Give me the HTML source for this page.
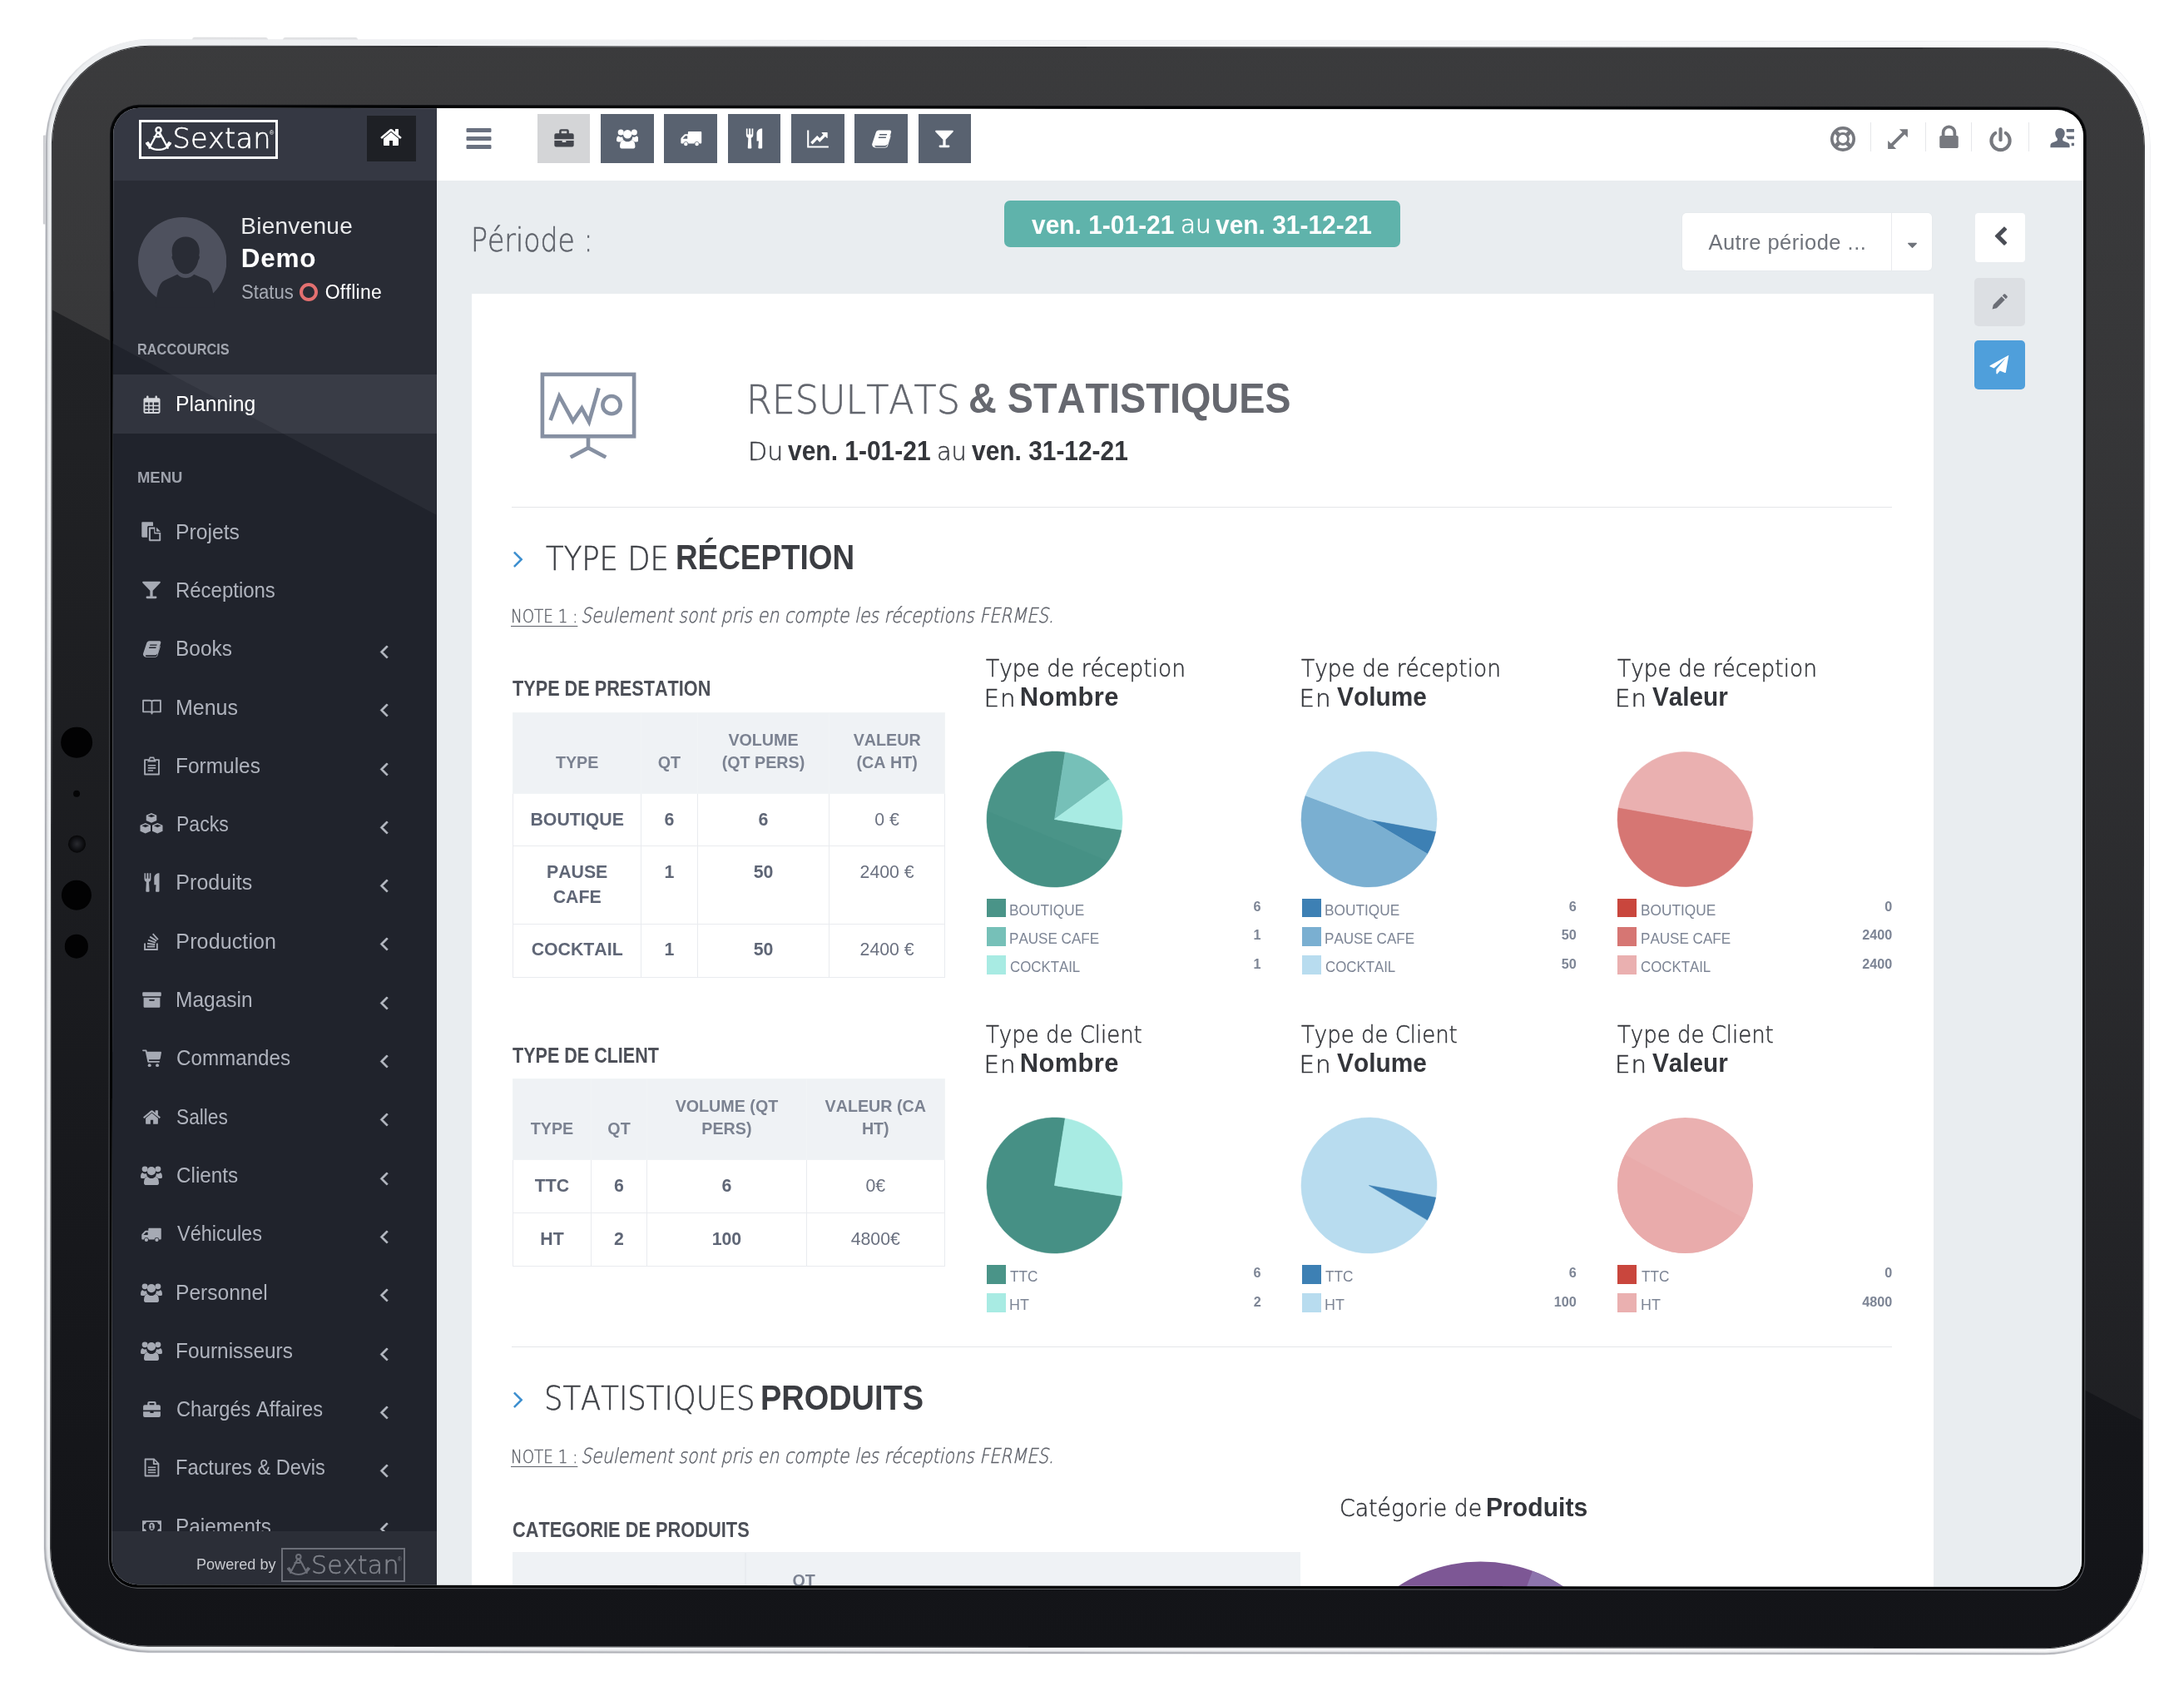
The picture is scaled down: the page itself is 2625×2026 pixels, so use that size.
<!DOCTYPE html>
<html lang="fr"><head><meta charset="utf-8"><title>Sextan - Resultats &amp; Statistiques</title><style>
html,body{margin:0;padding:0}
body{width:2625px;height:2026px;background:#fff;position:relative;overflow:hidden;font-family:"Liberation Sans",sans-serif;font-kerning:none}
.t{position:absolute;white-space:pre;line-height:1;font-kerning:none}
.abs{position:absolute}
table{border-collapse:collapse}

table.st{position:absolute;table-layout:fixed;border-collapse:collapse;font-family:"Liberation Sans",sans-serif;font-kerning:none}
table.st th{background:#eff2f5;color:#7b8291;font-weight:700;font-size:19.700px;line-height:27.500px;text-align:center;vertical-align:bottom;padding:0 0 22.100px 0;border:1.500px solid #f1f4f6;box-sizing:border-box}
table.st td{background:#fff;color:#5f6676;font-weight:700;font-size:21.300px;line-height:29.700px;text-align:center;vertical-align:top;padding:16.700px 0 0 0;border:1.500px solid #e9ebef;box-sizing:border-box}
table.st td.n{font-weight:400;color:#6b7180}
</style></head><body>

<div style="position:absolute;left:0;top:0;width:2625px;height:2026px;transform:rotate(0.00110rad);transform-origin:1318px 1017px">
<div style="position:absolute;left:230.00px;top:45.80px;width:91.00px;height:5.20px;background:linear-gradient(#dcdddf,#efeff1);border-radius:3px 3px 0 0"></div>
<div style="position:absolute;left:339.00px;top:45.80px;width:90.00px;height:5.20px;background:linear-gradient(#dcdddf,#efeff1);border-radius:3px 3px 0 0"></div>
<div style="position:absolute;left:50.60px;top:164.30px;width:6.40px;height:106.70px;background:linear-gradient(90deg,#cbccd0,#d6d7da);border-radius:1px 0 0 1px"></div>
<div style="position:absolute;left:53.80px;top:49.10px;width:2529.20px;height:1937.80px;border-radius:125px;background:linear-gradient(97deg,#eceef0 0%,#f3f4f6 45%,#fbfbfc 100%);box-shadow:inset 2.600px -2.600px 2.500px -.6px rgba(140,143,150,.8),0 0 0 .7px rgba(228,230,234,.9)"></div>
<div style="position:absolute;left:61.80px;top:57.40px;width:2514.60px;height:1921.20px;border-radius:117px;background:linear-gradient(180deg,#232427 0%,#202124 25%,#17181c 75%,#131418 100%);box-shadow:0 0 0 1px rgba(20,21,25,.85)"></div>
<div style="position:absolute;left:61.8px;top:57.4px;width:2514.6px;height:1921.2px;border-radius:117px;overflow:hidden"><div style="position:absolute;left:0;top:0;width:100%;height:100%;clip-path:polygon(0.0px 0.0px,2514.6px 0.0px,2514.6px 1648.6px,0.0px 316.2px);background:linear-gradient(180deg,rgba(249,243,234,.108) 0%,rgba(249,243,234,.1) 20%,rgba(249,243,234,.045) 85%,rgba(249,243,234,.04) 100%)"></div></div>
<div style="position:absolute;left:131.10px;top:127.00px;width:2376.10px;height:1782.80px;border-radius:35px;background:linear-gradient(180deg,#101114 0%,#3a3c41 25%,#5f6166 100%)"></div>
<div style="position:absolute;left:131.90px;top:127.50px;width:2374.40px;height:1781.40px;border-radius:34px;background:#030405"></div>
<div style="position:absolute;left:73.40px;top:875.10px;width:37.20px;height:37.20px;border-radius:50%;background:#020203"></div>
<div style="position:absolute;left:73.80px;top:1058.80px;width:36.40px;height:36.40px;border-radius:50%;background:#020203"></div>
<div style="position:absolute;left:77.80px;top:1124.20px;width:28.40px;height:28.40px;border-radius:50%;background:#020203"></div>
<div style="position:absolute;left:88.00px;top:950.50px;width:8.00px;height:8.00px;border-radius:50%;background:#050506"></div>
<div style="position:absolute;left:81.50px;top:1004.80px;width:21.00px;height:21.00px;border-radius:50%;background:radial-gradient(circle at 50% 50%,#2a2b30 0,#131418 42%,#050506 72%)"></div>
</div>
<div id="screen" style="position:absolute;left:130px;top:124px;width:2380px;height:1788px;overflow:hidden;background:#e9edf0;clip-path:path('M37.28 5.73L2342.97 8.27A31 31 0 0 1 2373.94 39.30L2372.06 1751.80A31 31 0 0 1 2341.02 1782.77L35.32 1780.23A31 31 0 0 1 4.36 1749.20L6.24 36.70A31 31 0 0 1 37.28 5.73Z')">
<div style="position:absolute;left:-130px;top:-124px;width:2625px;height:2026px;will-change:transform">
<div style="position:absolute;left:128.00px;top:122.00px;width:2384.00px;height:1792.00px;background:#e9edf0"></div>
<div style="position:absolute;left:566.80px;top:352.60px;width:1756.80px;height:1561.40px;background:#ffffff"></div>
<svg style="position:absolute;left:705.50px;top:498.00px;color:#8690a2;display:none" width="1.00" height="1.00" viewBox="0 0 60 54" fill="currentColor"><rect x="1.500" y="1.500" width="57" height="38.500" fill="none" stroke="currentColor" stroke-width="2.400"/><path fill="none" stroke="currentColor" stroke-width="2.400" d="M30 40v7.500M19 53l11-5.800 11 5.800M6.500 30l5.500-15 8.500 15.500 5.500-8 4.500 8.500 6-21"/><circle cx="44.500" cy="20.500" r="5.500" fill="none" stroke="currentColor" stroke-width="2.400"/></svg>
<svg style="position:absolute;left:648.5px;top:446.5px;color:#8690a2" width="116" height="104.400" viewBox="0 0 60 54"><rect x="1.500" y="1.500" width="57" height="38.500" fill="none" stroke="currentColor" stroke-width="2.400"/><path fill="none" stroke="currentColor" stroke-width="2.400" d="M30 40v7.500M19 53l11-5.800 11 5.800M6.500 30l5.500-15 8.500 15.500 5.500-8 4.500 8.500 6-21"/><circle cx="44.500" cy="20.500" r="5.500" fill="none" stroke="currentColor" stroke-width="2.400"/></svg>
<div class="t" style="left:897.04px;top:456.37px;font-size:48.01px;color:#62656d;transform:scaleX(0.9239);transform-origin:0 0;font-family:'DejaVu Sans Light','DejaVu Sans',sans-serif;font-weight:200;-webkit-text-stroke:0.60px #62656d;">RESULTATS</div>
<div class="t" style="left:1163.84px;top:453.63px;font-size:50.87px;color:#66686f;transform:scaleX(0.9206);transform-origin:0 0;"><span style="font-weight:700;">&amp; STATISTIQUES</span></div>
<div class="t" style="left:898.84px;top:528.10px;font-size:30.59px;color:#3c3e44;transform:scaleX(0.9844);transform-origin:0 0;font-family:'DejaVu Sans Light','DejaVu Sans',sans-serif;font-weight:200;-webkit-text-stroke:0.50px #3c3e44;">Du</div>
<div class="t" style="left:946.68px;top:526.36px;font-size:32.41px;color:#34363b;transform:scaleX(0.9249);transform-origin:0 0;"><span style="font-weight:700;">ven. 1-01-21</span></div>
<div class="t" style="left:1125.74px;top:528.10px;font-size:30.59px;color:#3c3e44;transform:scaleX(0.9391);transform-origin:0 0;font-family:'DejaVu Sans Light','DejaVu Sans',sans-serif;font-weight:200;-webkit-text-stroke:0.50px #3c3e44;">au</div>
<div class="t" style="left:1167.78px;top:526.36px;font-size:32.41px;color:#34363b;transform:scaleX(0.9226);transform-origin:0 0;"><span style="font-weight:700;">ven. 31-12-21</span></div>
<div style="position:absolute;left:615.40px;top:608.60px;width:1658.60px;height:1.40px;background:#e4e6e9"></div>
<svg style="position:absolute;left:605.50px;top:654.20px;color:#3d8fcf;" width="34.00" height="34.00" viewBox="0 0 1792 1792" fill="currentColor"><g transform="translate(1792 0) scale(-1 1)"><path d="M1203 544q0 13-10 23l-393 393 393 393q10 10 10 23t-10 23l-50 50q-10 10-23 10t-23-10l-466-466q-10-10-10-23t10-23l466-466q10-10 23-10t23 10l50 50q10 10 10 23z"/></g></svg>
<div class="t" style="left:655.92px;top:651.63px;font-size:39.37px;color:#3e4046;transform:scaleX(0.8998);transform-origin:0 0;font-family:'DejaVu Sans Light','DejaVu Sans',sans-serif;font-weight:200;-webkit-text-stroke:0.50px #3e4046;">TYPE DE</div>
<div class="t" style="left:811.83px;top:649.38px;font-size:41.72px;color:#3b3d42;transform:scaleX(0.8836);transform-origin:0 0;"><span style="font-weight:700;">RÉCEPTION</span></div>
<div class="t" style="left:614.18px;top:731.42px;font-size:20.58px;color:#5d6068;transform:scaleX(0.8902);transform-origin:0 0;font-family:'DejaVu Sans Light','DejaVu Sans',sans-serif;font-weight:200;text-decoration:underline;text-decoration-thickness:1.300px;text-underline-offset:3.500px;-webkit-text-stroke:0.40px #5d6068;">NOTE 1 :</div>
<div class="t" style="left:697.67px;top:727.96px;font-size:24.69px;color:#5d6068;transform:scaleX(0.8321);transform-origin:0 0;font-family:'DejaVu Sans Light','DejaVu Sans',sans-serif;font-weight:200;-webkit-text-stroke:0.45px #5d6068;font-style:italic;">Seulement sont pris en compte les réceptions FERMES.</div>
<div class="t" style="left:616.16px;top:815.01px;font-size:25.15px;color:#4d5058;transform:scaleX(0.8618);transform-origin:0 0;"><span style="font-weight:700;">TYPE DE PRESTATION</span></div>
<table class="st" style="left:616.00px;top:855.50px;width:518.90px"><colgroup><col style="width:154.30px"><col style="width:67.30px"><col style="width:158.80px"><col style="width:138.50px"></colgroup><thead><tr style="height:97.50px"><th>TYPE</th><th>QT</th><th>VOLUME<br>(QT PERS)</th><th>VALEUR<br>(CA HT)</th></tr></thead><tbody><tr style="height:63.30px"><td>BOUTIQUE</td><td>6</td><td>6</td><td class="n">0 €</td></tr><tr style="height:93.40px"><td>PAUSE<br>CAFE</td><td>1</td><td>50</td><td class="n">2400 €</td></tr><tr style="height:64.50px"><td>COCKTAIL</td><td>1</td><td>50</td><td class="n">2400 €</td></tr></tbody></table>
<div class="t" style="left:616.16px;top:1255.61px;font-size:25.15px;color:#4d5058;transform:scaleX(0.8568);transform-origin:0 0;"><span style="font-weight:700;">TYPE DE CLIENT</span></div>
<table class="st" style="left:616.00px;top:1295.60px;width:518.90px"><colgroup><col style="width:93.90px"><col style="width:67.30px"><col style="width:191.50px"><col style="width:166.20px"></colgroup><thead><tr style="height:97.30px"><th>TYPE</th><th>QT</th><th>VOLUME (QT<br>PERS)</th><th>VALEUR (CA<br>HT)</th></tr></thead><tbody><tr style="height:64.00px"><td>TTC</td><td>6</td><td>6</td><td class="n">0€</td></tr><tr style="height:64.00px"><td>HT</td><td>2</td><td>100</td><td class="n">4800€</td></tr></tbody></table>
<div class="t" style="left:1185.42px;top:788.96px;font-size:29.22px;color:#33353a;transform:scaleX(0.9043);transform-origin:0 0;font-family:'DejaVu Sans Light','DejaVu Sans',sans-serif;font-weight:200;-webkit-text-stroke:0.50px #33353a;">Type de réception</div>
<div class="t" style="left:1182.45px;top:824.76px;font-size:29.22px;color:#33353a;letter-spacing:1.012px;font-family:'DejaVu Sans Light','DejaVu Sans',sans-serif;font-weight:200;-webkit-text-stroke:0.50px #33353a;">En</div>
<div class="t" style="left:1225.73px;top:823.09px;font-size:30.96px;color:#33353a;letter-spacing:0.351px;"><span style="font-weight:700;">Nombre</span></div>
<svg style="position:absolute;left:1183.20px;top:899.80px" width="169.00" height="169.00" viewBox="0 0 169.00 169.00"><path d="M84.50 84.50L165.00 97.25A81.50 81.50 0 1 1 97.25 4.00Z" fill="#4a9488" stroke="#4a9488" stroke-width=".6"/><path d="M84.50 84.50L97.25 4.00A81.50 81.50 0 0 1 150.43 36.60Z" fill="#76c0b8" stroke="#76c0b8" stroke-width=".6"/><path d="M84.50 84.50L150.43 36.60A81.50 81.50 0 0 1 165.00 97.25Z" fill="#a8ebe3" stroke="#a8ebe3" stroke-width=".6"/><path d="M148.72 134.68A81.500 81.500 0 0 1 3.61 74.57Z" fill="#3f8b80" opacity=".35"/></svg>
<div style="position:absolute;left:1185.70px;top:1079.70px;width:23.00px;height:22.60px;background:#4a9488"></div>
<div class="t" style="left:1213.18px;top:1084.76px;font-size:18.00px;color:#7d8595;transform:scaleX(0.9590);transform-origin:0 0;">BOUTIQUE</div>
<div class="t" style="left:1506.58px;top:1080.98px;font-size:16.20px;color:#7d8595;"><span style="font-weight:700;">6</span></div>
<div style="position:absolute;left:1185.70px;top:1114.00px;width:23.00px;height:22.60px;background:#76c0b8"></div>
<div class="t" style="left:1213.20px;top:1119.06px;font-size:18.00px;color:#7d8595;transform:scaleX(0.9483);transform-origin:0 0;">PAUSE CAFE</div>
<div class="t" style="left:1506.44px;top:1115.28px;font-size:16.20px;color:#7d8595;"><span style="font-weight:700;">1</span></div>
<div style="position:absolute;left:1185.70px;top:1148.30px;width:23.00px;height:22.60px;background:#a8ebe3"></div>
<div class="t" style="left:1213.74px;top:1153.36px;font-size:18.00px;color:#7d8595;transform:scaleX(0.9355);transform-origin:0 0;">COCKTAIL</div>
<div class="t" style="left:1506.44px;top:1149.58px;font-size:16.20px;color:#7d8595;"><span style="font-weight:700;">1</span></div>
<div class="t" style="left:1564.42px;top:788.96px;font-size:29.22px;color:#33353a;transform:scaleX(0.9043);transform-origin:0 0;font-family:'DejaVu Sans Light','DejaVu Sans',sans-serif;font-weight:200;-webkit-text-stroke:0.50px #33353a;">Type de réception</div>
<div class="t" style="left:1561.45px;top:824.76px;font-size:29.22px;color:#33353a;letter-spacing:1.012px;font-family:'DejaVu Sans Light','DejaVu Sans',sans-serif;font-weight:200;-webkit-text-stroke:0.50px #33353a;">En</div>
<div class="t" style="left:1606.60px;top:823.09px;font-size:30.96px;color:#33353a;transform:scaleX(0.9643);transform-origin:0 0;"><span style="font-weight:700;">Volume</span></div>
<svg style="position:absolute;left:1561.20px;top:899.80px" width="169.00" height="169.00" viewBox="0 0 169.00 169.00"><path d="M84.50 84.50L164.69 99.07A81.50 81.50 0 0 1 154.58 126.11Z" fill="#3d80b4" stroke="#3d80b4" stroke-width=".6"/><path d="M84.50 84.50L154.58 126.11A81.50 81.50 0 0 1 8.16 55.96Z" fill="#7aafd1" stroke="#7aafd1" stroke-width=".6"/><path d="M84.50 84.50L8.16 55.96A81.50 81.50 0 0 1 164.69 99.07Z" fill="#b8dcef" stroke="#b8dcef" stroke-width=".6"/></svg>
<div style="position:absolute;left:1564.70px;top:1079.70px;width:23.00px;height:22.60px;background:#3d80b4"></div>
<div class="t" style="left:1592.18px;top:1084.76px;font-size:18.00px;color:#7d8595;transform:scaleX(0.9590);transform-origin:0 0;">BOUTIQUE</div>
<div class="t" style="left:1885.78px;top:1080.98px;font-size:16.20px;color:#7d8595;"><span style="font-weight:700;">6</span></div>
<div style="position:absolute;left:1564.70px;top:1114.00px;width:23.00px;height:22.60px;background:#7aafd1"></div>
<div class="t" style="left:1592.20px;top:1119.06px;font-size:18.00px;color:#7d8595;transform:scaleX(0.9483);transform-origin:0 0;">PAUSE CAFE</div>
<div class="t" style="left:1876.85px;top:1115.28px;font-size:16.20px;color:#7d8595;"><span style="font-weight:700;">50</span></div>
<div style="position:absolute;left:1564.70px;top:1148.30px;width:23.00px;height:22.60px;background:#b8dcef"></div>
<div class="t" style="left:1592.74px;top:1153.36px;font-size:18.00px;color:#7d8595;transform:scaleX(0.9355);transform-origin:0 0;">COCKTAIL</div>
<div class="t" style="left:1876.85px;top:1149.58px;font-size:16.20px;color:#7d8595;"><span style="font-weight:700;">50</span></div>
<div class="t" style="left:1943.92px;top:788.96px;font-size:29.22px;color:#33353a;transform:scaleX(0.9043);transform-origin:0 0;font-family:'DejaVu Sans Light','DejaVu Sans',sans-serif;font-weight:200;-webkit-text-stroke:0.50px #33353a;">Type de réception</div>
<div class="t" style="left:1940.95px;top:824.76px;font-size:29.22px;color:#33353a;letter-spacing:1.012px;font-family:'DejaVu Sans Light','DejaVu Sans',sans-serif;font-weight:200;-webkit-text-stroke:0.50px #33353a;">En</div>
<div class="t" style="left:1986.10px;top:823.09px;font-size:30.96px;color:#33353a;transform:scaleX(0.9599);transform-origin:0 0;"><span style="font-weight:700;">Valeur</span></div>
<svg style="position:absolute;left:1941.00px;top:899.80px" width="169.00" height="169.00" viewBox="0 0 169.00 169.00"><path d="M84.50 84.50L164.76 98.65A81.50 81.50 0 0 1 4.24 70.35Z" fill="#d67673" stroke="#d67673" stroke-width=".6"/><path d="M84.50 84.50L4.24 70.35A81.50 81.50 0 0 1 164.76 98.65Z" fill="#eab0b0" stroke="#eab0b0" stroke-width=".6"/></svg>
<div style="position:absolute;left:1944.20px;top:1079.70px;width:23.00px;height:22.60px;background:#c9463d"></div>
<div class="t" style="left:1971.68px;top:1084.76px;font-size:18.00px;color:#7d8595;transform:scaleX(0.9590);transform-origin:0 0;">BOUTIQUE</div>
<div class="t" style="left:2265.35px;top:1080.98px;font-size:16.20px;color:#7d8595;"><span style="font-weight:700;">0</span></div>
<div style="position:absolute;left:1944.20px;top:1114.00px;width:23.00px;height:22.60px;background:#d67673"></div>
<div class="t" style="left:1971.70px;top:1119.06px;font-size:18.00px;color:#7d8595;transform:scaleX(0.9483);transform-origin:0 0;">PAUSE CAFE</div>
<div class="t" style="left:2238.33px;top:1115.28px;font-size:16.20px;color:#7d8595;"><span style="font-weight:700;">2400</span></div>
<div style="position:absolute;left:1944.20px;top:1148.30px;width:23.00px;height:22.60px;background:#eab0b0"></div>
<div class="t" style="left:1972.24px;top:1153.36px;font-size:18.00px;color:#7d8595;transform:scaleX(0.9355);transform-origin:0 0;">COCKTAIL</div>
<div class="t" style="left:2238.33px;top:1149.58px;font-size:16.20px;color:#7d8595;"><span style="font-weight:700;">2400</span></div>
<div class="t" style="left:1185.43px;top:1228.96px;font-size:29.22px;color:#33353a;transform:scaleX(0.8885);transform-origin:0 0;font-family:'DejaVu Sans Light','DejaVu Sans',sans-serif;font-weight:200;-webkit-text-stroke:0.50px #33353a;">Type de Client</div>
<div class="t" style="left:1182.45px;top:1264.76px;font-size:29.22px;color:#33353a;letter-spacing:1.012px;font-family:'DejaVu Sans Light','DejaVu Sans',sans-serif;font-weight:200;-webkit-text-stroke:0.50px #33353a;">En</div>
<div class="t" style="left:1225.73px;top:1263.09px;font-size:30.96px;color:#33353a;letter-spacing:0.351px;"><span style="font-weight:700;">Nombre</span></div>
<svg style="position:absolute;left:1183.20px;top:1340.20px" width="169.00" height="169.00" viewBox="0 0 169.00 169.00"><path d="M84.50 84.50L165.00 97.25A81.50 81.50 0 1 1 97.25 4.00Z" fill="#469085" stroke="#469085" stroke-width=".6"/><path d="M84.50 84.50L97.25 4.00A81.50 81.50 0 0 1 165.00 97.25Z" fill="#a8ebe3" stroke="#a8ebe3" stroke-width=".6"/></svg>
<div style="position:absolute;left:1185.70px;top:1520.10px;width:23.00px;height:22.60px;background:#4a9488"></div>
<div class="t" style="left:1214.21px;top:1525.16px;font-size:18.00px;color:#7d8595;transform:scaleX(0.9558);transform-origin:0 0;">TTC</div>
<div class="t" style="left:1506.58px;top:1521.38px;font-size:16.20px;color:#7d8595;"><span style="font-weight:700;">6</span></div>
<div style="position:absolute;left:1185.70px;top:1554.40px;width:23.00px;height:22.60px;background:#a8ebe3"></div>
<div class="t" style="left:1213.13px;top:1559.46px;font-size:18.00px;color:#7d8595;transform:scaleX(0.9953);transform-origin:0 0;">HT</div>
<div class="t" style="left:1506.64px;top:1555.68px;font-size:16.20px;color:#7d8595;"><span style="font-weight:700;">2</span></div>
<div class="t" style="left:1564.43px;top:1228.96px;font-size:29.22px;color:#33353a;transform:scaleX(0.8885);transform-origin:0 0;font-family:'DejaVu Sans Light','DejaVu Sans',sans-serif;font-weight:200;-webkit-text-stroke:0.50px #33353a;">Type de Client</div>
<div class="t" style="left:1561.45px;top:1264.76px;font-size:29.22px;color:#33353a;letter-spacing:1.012px;font-family:'DejaVu Sans Light','DejaVu Sans',sans-serif;font-weight:200;-webkit-text-stroke:0.50px #33353a;">En</div>
<div class="t" style="left:1606.60px;top:1263.09px;font-size:30.96px;color:#33353a;transform:scaleX(0.9643);transform-origin:0 0;"><span style="font-weight:700;">Volume</span></div>
<svg style="position:absolute;left:1561.20px;top:1340.20px" width="169.00" height="169.00" viewBox="0 0 169.00 169.00"><path d="M84.50 84.50L154.58 126.11A81.50 81.50 0 1 1 164.69 99.07Z" fill="#b8dcef" stroke="#b8dcef" stroke-width=".6"/><path d="M84.50 84.50L164.69 99.07A81.50 81.50 0 0 1 154.58 126.11Z" fill="#3d80b4" stroke="#3d80b4" stroke-width=".6"/></svg>
<div style="position:absolute;left:1564.70px;top:1520.10px;width:23.00px;height:22.60px;background:#3d80b4"></div>
<div class="t" style="left:1593.21px;top:1525.16px;font-size:18.00px;color:#7d8595;transform:scaleX(0.9558);transform-origin:0 0;">TTC</div>
<div class="t" style="left:1885.78px;top:1521.38px;font-size:16.20px;color:#7d8595;"><span style="font-weight:700;">6</span></div>
<div style="position:absolute;left:1564.70px;top:1554.40px;width:23.00px;height:22.60px;background:#b8dcef"></div>
<div class="t" style="left:1592.13px;top:1559.46px;font-size:18.00px;color:#7d8595;transform:scaleX(0.9953);transform-origin:0 0;">HT</div>
<div class="t" style="left:1867.84px;top:1555.68px;font-size:16.20px;color:#7d8595;"><span style="font-weight:700;">100</span></div>
<div class="t" style="left:1943.93px;top:1228.96px;font-size:29.22px;color:#33353a;transform:scaleX(0.8885);transform-origin:0 0;font-family:'DejaVu Sans Light','DejaVu Sans',sans-serif;font-weight:200;-webkit-text-stroke:0.50px #33353a;">Type de Client</div>
<div class="t" style="left:1940.95px;top:1264.76px;font-size:29.22px;color:#33353a;letter-spacing:1.012px;font-family:'DejaVu Sans Light','DejaVu Sans',sans-serif;font-weight:200;-webkit-text-stroke:0.50px #33353a;">En</div>
<div class="t" style="left:1986.10px;top:1263.09px;font-size:30.96px;color:#33353a;transform:scaleX(0.9599);transform-origin:0 0;"><span style="font-weight:700;">Valeur</span></div>
<svg style="position:absolute;left:1941.00px;top:1340.20px" width="169.00" height="169.00" viewBox="0 0 169.00 169.00"><circle cx="84.50" cy="84.50" r="81.50" fill="#eab0b0"/><path d="M155.78 124.01A81.500 81.500 0 0 1 11.88 47.50Z" fill="#e7a9a9" opacity=".6"/></svg>
<div style="position:absolute;left:1944.20px;top:1520.10px;width:23.00px;height:22.60px;background:#c9463d"></div>
<div class="t" style="left:1972.71px;top:1525.16px;font-size:18.00px;color:#7d8595;transform:scaleX(0.9558);transform-origin:0 0;">TTC</div>
<div class="t" style="left:2265.35px;top:1521.38px;font-size:16.20px;color:#7d8595;"><span style="font-weight:700;">0</span></div>
<div style="position:absolute;left:1944.20px;top:1554.40px;width:23.00px;height:22.60px;background:#eab0b0"></div>
<div class="t" style="left:1971.63px;top:1559.46px;font-size:18.00px;color:#7d8595;transform:scaleX(0.9953);transform-origin:0 0;">HT</div>
<div class="t" style="left:2238.33px;top:1555.68px;font-size:16.20px;color:#7d8595;"><span style="font-weight:700;">4800</span></div>
<div style="position:absolute;left:615.40px;top:1617.80px;width:1658.60px;height:1.40px;background:#e4e6e9"></div>
<svg style="position:absolute;left:605.50px;top:1663.90px;color:#3d8fcf;" width="34.00" height="34.00" viewBox="0 0 1792 1792" fill="currentColor"><g transform="translate(1792 0) scale(-1 1)"><path d="M1203 544q0 13-10 23l-393 393 393 393q10 10 10 23t-10 23l-50 50q-10 10-23 10t-23-10l-466-466q-10-10-10-23t10-23l466-466q10-10 23-10t23 10l50 50q10 10 10 23z"/></g></svg>
<div class="t" style="left:653.55px;top:1661.33px;font-size:39.37px;color:#3e4046;transform:scaleX(0.8992);transform-origin:0 0;font-family:'DejaVu Sans Light','DejaVu Sans',sans-serif;font-weight:200;-webkit-text-stroke:0.50px #3e4046;">STATISTIQUES</div>
<div class="t" style="left:914.46px;top:1659.08px;font-size:41.72px;color:#3b3d42;transform:scaleX(0.9094);transform-origin:0 0;"><span style="font-weight:700;">PRODUITS</span></div>
<div class="t" style="left:614.18px;top:1741.12px;font-size:20.58px;color:#5d6068;transform:scaleX(0.8902);transform-origin:0 0;font-family:'DejaVu Sans Light','DejaVu Sans',sans-serif;font-weight:200;text-decoration:underline;text-decoration-thickness:1.300px;text-underline-offset:3.500px;-webkit-text-stroke:0.40px #5d6068;">NOTE 1 :</div>
<div class="t" style="left:697.67px;top:1737.66px;font-size:24.69px;color:#5d6068;transform:scaleX(0.8321);transform-origin:0 0;font-family:'DejaVu Sans Light','DejaVu Sans',sans-serif;font-weight:200;-webkit-text-stroke:0.45px #5d6068;font-style:italic;">Seulement sont pris en compte les réceptions FERMES.</div>
<div class="t" style="left:615.51px;top:1826.01px;font-size:25.15px;color:#4d5058;transform:scaleX(0.8673);transform-origin:0 0;"><span style="font-weight:700;">CATEGORIE DE PRODUITS</span></div>
<div style="position:absolute;left:616.00px;top:1864.50px;width:946.50px;height:49.50px;background:#eff2f5"></div>
<div style="position:absolute;left:895.00px;top:1866.00px;width:1.50px;height:48.00px;background:#e9ecf0"></div>
<div class="t" style="left:952.52px;top:1889.62px;font-size:19.70px;color:#7b8291;"><span style="font-weight:700;">QT</span></div>
<div class="t" style="left:1610.48px;top:1798.46px;font-size:29.22px;color:#33353a;transform:scaleX(0.9154);transform-origin:0 0;font-family:'DejaVu Sans Light','DejaVu Sans',sans-serif;font-weight:200;-webkit-text-stroke:0.50px #33353a;">Catégorie de</div>
<div class="t" style="left:1786.48px;top:1796.79px;font-size:30.96px;color:#33353a;transform:scaleX(0.9737);transform-origin:0 0;"><span style="font-weight:700;">Produits</span></div>
<svg style="position:absolute;left:1590px;top:1870px" width="380" height="60" viewBox="1590 1870 380 60"><circle cx="1779.500" cy="2057" r="180.500" fill="#7d5795"/><path d="M1779.500 2057L1842 1887.700A180.500 180.500 0 0 1 1960 2057Z" fill="#8d74ad"/></svg>
<div class="t" style="left:565.65px;top:270.15px;font-size:38.27px;color:#5f636b;transform:scaleX(0.8659);transform-origin:0 0;font-family:'DejaVu Sans Light','DejaVu Sans',sans-serif;font-weight:200;-webkit-text-stroke:0.60px #5f636b;">Période :</div>
<div style="position:absolute;left:1207.00px;top:241.20px;width:476.00px;height:56.10px;background:#5fb3ab;border-radius:7px"></div>
<div class="t" style="left:1239.88px;top:254.96px;font-size:30.52px;color:#ffffff;transform:scaleX(0.9810);transform-origin:0 0;"><span style="font-weight:700;">ven. 1-01-21</span></div>
<div class="t" style="left:1418.58px;top:256.03px;font-size:29.49px;color:#ffffff;transform:scaleX(0.9999);transform-origin:0 0;font-family:'DejaVu Sans Light','DejaVu Sans',sans-serif;font-weight:200;-webkit-text-stroke:0.70px #ffffff;">au</div>
<div class="t" style="left:1460.88px;top:254.96px;font-size:30.52px;color:#ffffff;transform:scaleX(0.9802);transform-origin:0 0;"><span style="font-weight:700;">ven. 31-12-21</span></div>
<div style="position:absolute;left:2022.20px;top:256.30px;width:299.40px;height:68.40px;background:#fff;border-radius:5px;box-shadow:0 0 2px rgba(0,0,0,.05)"></div>
<div style="position:absolute;left:2273.00px;top:256.30px;width:1.20px;height:68.40px;background:#e9ebee"></div>
<div class="t" style="left:2053.45px;top:279.41px;font-size:25.50px;color:#6f737b;letter-spacing:0.496px;">Autre période ...</div>
<svg style="position:absolute;left:2289.00px;top:284.50px;color:#6f737b;" width="19.00" height="19.00" viewBox="0 0 1792 1792" fill="currentColor"><path d="M1408 704q0 26-19 45l-448 448q-19 19-45 19t-45-19l-448-448q-19-19-19-45t19-45 45-19h896q26 0 45 19t19 45z"/></svg>
<div style="position:absolute;left:2374.00px;top:256.30px;width:59.50px;height:58.40px;background:#fff;border-radius:4px"></div>
<svg style="position:absolute;left:2391.50px;top:272.00px;color:#4a4d55;" width="25.00" height="25.00" viewBox="0 0 1792 1792" fill="currentColor"><path d="M1427 301l-531 531 531 531q19 19 19 45t-19 45l-166 166q-19 19-45 19t-45-19l-742-742q-19-19-19-45t19-45l742-742q19-19 45-19t45 19l166 166q19 19 19 45t-19 45z"/></svg>
<div style="position:absolute;left:2372.80px;top:333.70px;width:61.70px;height:58.10px;background:#dcdfe3;border-radius:5px"></div>
<svg style="position:absolute;left:2392.00px;top:351.00px;color:#6b6e76;" width="23.00" height="23.00" viewBox="0 0 24 24" fill="currentColor"><path d="M17.200 2.600c.5-.5 1.300-.5 1.800 0l2.400 2.400c.5.500.5 1.300 0 1.800l-1.800 1.800-4.200-4.200 1.800-1.800zM14.300 5.500l4.200 4.200L8.200 20l-5.500 1.300L4 15.800 14.300 5.500z"/></svg>
<div style="position:absolute;left:2372.80px;top:409.00px;width:61.70px;height:58.50px;background:#4f9fdb;border-radius:5px"></div>
<svg style="position:absolute;left:2389.50px;top:424.50px;color:#ffffff;" width="26.00" height="26.00" viewBox="0 0 24 24" fill="currentColor"><path d="M22.500 1.500L19.200 20.700c-.1.500-.6.700-1 .5l-5.500-2.300-2.900 3.400c-.4.500-1.200.2-1.200-.5v-4.200L19 5 6.100 16.200 1.800 14.400c-.6-.2-.6-1-.1-1.300L22.500 1.500z"/></svg>
<div style="position:absolute;left:524.50px;top:120.00px;width:1987.50px;height:97.30px;background:#ffffff"></div>
<svg style="position:absolute;left:557.50px;top:148.50px;color:#6a7180;" width="35.00" height="35.00" viewBox="0 0 1792 1792" fill="currentColor"><path d="M1664 1344v128q0 26-19 45t-45 19h-1408q-26 0-45-19t-19-45v-128q0-26 19-45t45-19h1408q26 0 45 19t19 45zm0-512v128q0 26-19 45t-45 19h-1408q-26 0-45-19t-19-45v-128q0-26 19-45t45-19h1408q26 0 45 19t19 45zm0-512v128q0 26-19 45t-45 19h-1408q-26 0-45-19t-19-45v-128q0-26 19-45t45-19h1408q26 0 45 19t19 45z"/></svg>
<div style="position:absolute;left:645.80px;top:136.80px;width:63.50px;height:59.20px;background:#d4d5d7"></div>
<svg style="position:absolute;left:663.50px;top:152.00px;color:#43464d;" width="28.00" height="28.00" viewBox="0 0 24 24" fill="currentColor"><path d="M9 2.800h6a2 2 0 0 1 2 2V7h3.200A1.800 1.800 0 0 1 22 8.800V13H2V8.800A1.800 1.800 0 0 1 3.800 7H7V4.800a2 2 0 0 1 2-2zm.2 2V7h5.600V4.800H9.200zM2 14.600h8v1.700h4v-1.700h8v4.600A1.800 1.800 0 0 1 20.200 21H3.800A1.800 1.800 0 0 1 2 19.200v-4.600z"/></svg>
<div style="position:absolute;left:722.12px;top:136.80px;width:63.50px;height:59.20px;background:#596270"></div>
<svg style="position:absolute;left:740.57px;top:153.25px;color:#ffffff;" width="26.50" height="26.50" viewBox="0 -1 24 24" fill="currentColor"><circle cx="12" cy="6.500" r="4.700"/><path d="M5.500 22c-1.100 0-1.800-.8-1.800-1.900 0-4.300 1.400-7.300 3.900-7.300 1.100 1.100 2.600 1.900 4.400 1.900s3.300-.8 4.400-1.900c2.500 0 3.900 3 3.900 7.300 0 1.100-.7 1.900-1.800 1.900z"/><circle cx="4.700" cy="4.400" r="3.200"/><path d="M0 13c0-2.700.9-4.500 2.400-4.500.7.700 1.500 1.200 2.500 1.200.6 0 1.200-.2 1.700-.5-.1 1.300.3 2.500 1.100 3.500-1.500.1-2.700.9-3.400 2.100H2.100C.8 14.800 0 14.200 0 13z"/><circle cx="19.300" cy="4.400" r="3.200"/><path d="M24 13c0-2.700-.9-4.500-2.400-4.500-.7.700-1.500 1.200-2.500 1.200-.6 0-1.200-.2-1.700-.5.1 1.300-.3 2.500-1.100 3.500 1.500.1 2.700.9 3.400 2.100h2.200c1.300 0 2.100-.6 2.100-1.800z"/></svg>
<div style="position:absolute;left:798.44px;top:136.80px;width:63.50px;height:59.20px;background:#596270"></div>
<svg style="position:absolute;left:816.64px;top:153.00px;color:#ffffff;" width="27.00" height="27.00" viewBox="0 0 24 24" fill="currentColor"><path fill-rule="evenodd" d="M9.500 4.500h13a.8.8 0 0 1 .8.800V16.500a.8.8 0 0 1-.8.800H21a2.800 2.800 0 0 0-5.500 0H9.300a2.800 2.800 0 0 0-5.500 0H2a.8.8 0 0 1-.8-.8V12.300c0-.5.200-1 .5-1.300l2.900-3.100c.3-.3.700-.5 1.200-.5h3v-2.100a.8.8 0 0 1 .7-.8zM3 12.300h5.200V9.200H6.100L3 12.400zM6.500 15.800a2 2 0 1 0 0 4 2 2 0 0 0 0-4zM18.300 15.800a2 2 0 1 0 0 4 2 2 0 0 0 0-4z"/></svg>
<div style="position:absolute;left:874.76px;top:136.80px;width:63.50px;height:59.20px;background:#596270"></div>
<svg style="position:absolute;left:891.96px;top:152.00px;color:#ffffff;" width="29.00" height="29.00" viewBox="0 0 24 24" fill="currentColor"><path d="M4 2v6.500c0 1.400.9 2.500 2.100 2.900L5.600 21c0 .6.500 1 1.100 1h1.600c.6 0 1.100-.4 1.100-1l-.5-9.600c1.200-.4 2.100-1.500 2.100-2.900V2H9.600v5.800H8.400V2H6.600v5.800H5.400V2H4zM19.500 2c-2.800 0-5 2.200-5 5v7.500h2l-.5 6.500c0 .6.500 1 1.100 1h1.800c.6 0 1.100-.4 1.100-1V2h-.5z"/></svg>
<div style="position:absolute;left:951.08px;top:136.80px;width:63.50px;height:59.20px;background:#596270"></div>
<svg style="position:absolute;left:968.78px;top:152.50px;color:#ffffff;" width="28.00" height="28.00" viewBox="0 0 24 24" fill="currentColor"><path d="M1 3h1.800v16.200H23V21H1z"/><path d="M22 5.500v5.200c0 .4-.5.600-.8.300l-1.500-1.500-5.500 5.500c-.2.200-.4.200-.6 0L11.300 12.700 6.500 17.500 4.400 15.400 11 8.800c.2-.2.400-.2.600 0l2.300 2.300 3.700-3.700-1.500-1.500c-.3-.3-.1-.8.300-.8h5.200c.2 0 .4.200.4.400z"/></svg>
<div style="position:absolute;left:1027.40px;top:136.80px;width:63.50px;height:59.20px;background:#596270"></div>
<svg style="position:absolute;left:1045.60px;top:153.00px;color:#ffffff;" width="27.00" height="27.00" viewBox="0 0 24 24" fill="currentColor"><path fill-rule="evenodd" d="M9.200 3.200h11.600c1.200 0 1.900 1 1.500 2.200l-3.700 12c-.4 1.200-1.500 2.100-2.800 2.100H5.500c-.6 0-1 .3-.8.800.2.500.7.700 1.400.7h9.800c.9 0 1.800-.6 2.100-1.500L21.300 8c.5.600.6 1.300.4 2.100l-3 9.700c-.4 1.300-1.500 2-2.800 2H5.700c-1.700 0-3.300-1.200-3.700-2.700-.2-.7-.1-1.200.1-1.800L6 5.500c.5-1.400 1.700-2.300 3.200-2.300zM10 7.200l-.4 1.300h8l.4-1.300h-8zM9 10.200l-.4 1.300h8l.4-1.300H9z"/></svg>
<div style="position:absolute;left:1103.72px;top:136.80px;width:63.50px;height:59.20px;background:#596270"></div>
<svg style="position:absolute;left:1122.42px;top:153.50px;color:#ffffff;" width="26.00" height="26.00" viewBox="0 0 24 24" fill="currentColor"><path d="M2 3.500c0-.5.400-.9.900-.9h18.200c.5 0 .9.400.9.900 0 .3-.1.500-.3.700L13.500 12.800V19h3.300c.6 0 1.100.5 1.100 1.100v.2c0 .6-.5 1.100-1.100 1.100H7.200c-.6 0-1.100-.5-1.100-1.100v-.2c0-.6.500-1.100 1.100-1.100h3.300v-6.200L2.300 4.200A1 1 0 0 1 2 3.500z"/></svg>
<svg style="position:absolute;left:2198.40px;top:149.70px;color:#77797f;" width="34.00" height="34.00" viewBox="0 0 24 24" fill="currentColor"><circle cx="12" cy="12" r="9.300" fill="none" stroke="currentColor" stroke-width="2.600"/><circle cx="12" cy="12" r="4.600" fill="none" stroke="currentColor" stroke-width="2"/><path stroke="currentColor" stroke-width="3.400" d="M5.300 5.300l3.300 3.300M18.700 5.300l-3.300 3.300M5.300 18.700l3.300-3.300M18.700 18.700l-3.300-3.300"/></svg>
<svg style="position:absolute;left:2266.30px;top:152.00px;color:#77797f;" width="30.00" height="30.00" viewBox="0 0 24 24" fill="currentColor"><path d="M13.500 2.500H21.500V10.500L18.600 7.600 7.600 18.600 10.500 21.500H2.500V13.500L5.400 16.400 16.400 5.400z"/></svg>
<svg style="position:absolute;left:2324.50px;top:147.50px;color:#77797f;" width="35.00" height="35.00" viewBox="0 0 1792 1792" fill="currentColor"><path d="M640 768h512v-192q0-106-75-181t-181-75-181 75-75 181v192zm832 96v576q0 40-28 68t-68 28h-960q-40 0-68-28t-28-68v-576q0-40 28-68t68-28h32v-192q0-184 132-316t316-132 316 132 132 316v192h32q40 0 68 28t28 68z"/></svg>
<svg style="position:absolute;left:2389.00px;top:152.50px;color:#77797f;" width="31.00" height="31.00" viewBox="0 0 24 24" fill="currentColor"><path d="M12 1.6v10.2" stroke="currentColor" stroke-width="3.2" stroke-linecap="round" fill="none"/><path d="M7.2 5.3a8.6 8.6 0 1 0 9.600 0" stroke="currentColor" stroke-width="3.2" stroke-linecap="round" fill="none"/></svg>
<svg style="position:absolute;left:2464.00px;top:152.00px;color:#666d7b;" width="32.00" height="32.00" viewBox="0 0 24 24" fill="currentColor"><path d="M9 1.500c2.500 0 4.300 2 4.300 4.600 0 1.800-.8 3.600-1.900 4.600v1.300c0 .5.300.9.800 1.100l3.800 1.600c1 .4 1.700 1.400 1.700 2.500V19H.3v-1.800c0-1.100.7-2.100 1.700-2.500l3.800-1.600c.5-.2.800-.6.800-1.100v-1.300C5.500 9.700 4.700 7.900 4.700 6.100c0-2.600 1.800-4.600 4.300-4.600zM14.800 2.300h6.900v2.700h-6.900zM14.300 8.700h7.400v2.700h-5.600zM19.300 14.800h2.400v2.700h-2.400z"/></svg>
<div style="position:absolute;left:2248.00px;top:147.00px;width:1.20px;height:35.00px;background:#e6e7ea"></div>
<div style="position:absolute;left:2313.70px;top:147.00px;width:1.20px;height:35.00px;background:#e6e7ea"></div>
<div style="position:absolute;left:2368.90px;top:147.00px;width:1.20px;height:35.00px;background:#e6e7ea"></div>
<div style="position:absolute;left:2437.90px;top:147.00px;width:1.20px;height:35.00px;background:#e6e7ea"></div>
<div style="position:absolute;left:126.00px;top:120.00px;width:398.50px;height:1794.00px;background:#20232c"></div>
<div style="position:absolute;left:126.00px;top:120.00px;width:398.50px;height:97.00px;background:#2c303b"></div>
<div style="position:absolute;left:166.80px;top:143.50px;width:167.50px;height:47.20px;box-sizing:border-box;border:3.30px solid #ffffff"></div>
<svg style="position:absolute;left:175.00px;top:151.80px" width="31.00" height="29.00" viewBox="0 0 31 29" fill="none" stroke="#ffffff" stroke-width="2.300" stroke-linecap="round"><circle cx="15.500" cy="4.300" r="3.100"/><path d="M14.200 7.200L4.500 25.700M16.800 7.200L26.700 25.700M1 20.300C8 30.500 23 30.500 30 20.300M10.500 12.300H17M15.500 7.500L21 14.500M2.800 19.200l2.600 3.800M28.200 19.200l-2.600 3.800"/></svg>
<div class="t" style="left:207.51px;top:150.28px;font-size:33.60px;color:#ffffff;letter-spacing:0.230px;font-family:'DejaVu Sans Light','DejaVu Sans',sans-serif;font-weight:200;-webkit-text-stroke:0.55px #ffffff;">Sextan</div>
<div class="t" style="left:323.69px;top:155.65px;font-size:7.50px;color:#ffffff;">®</div>
<div style="position:absolute;left:440.70px;top:139.00px;width:59.00px;height:55.00px;background:#14161c"></div>
<svg style="position:absolute;left:456.30px;top:150.50px;color:#ffffff;" width="28.00" height="28.00" viewBox="0 0 1792 1792" fill="currentColor"><path d="M1472 992v480q0 26-19 45t-45 19h-384v-384h-256v384h-384q-26 0-45-19t-19-45v-480q0-1 .5-3t.5-3l575-474 575 474q1 2 1 6zm223-69l-62 74q-8 9-21 11h-3q-13 0-21-7l-692-577-692 577q-12 8-24 7-13-2-21-11l-62-74q-8-10-7-23.5t11-21.5l719-599q32-26 76-26t76 26l244 204v-195q0-14 9-23t23-9h192q14 0 23 9t9 23v408l219 182q10 8 11 21.5t-7 23.5z"/></svg>
<svg style="position:absolute;left:166px;top:261.400px" width="106.400" height="110.400" viewBox="0 0 106 110"><circle cx="53" cy="53" r="53" fill="#474a57"/><g fill="#20232c"><path d="M57 23.500c9.500 0 16.500 7 16.500 17 0 2-.2 4-.6 5.500 1 .5 1 3.500-.8 5.500-1.300 8-7.500 16.500-15.100 16.500S43.200 59.500 41.900 51.500c-1.800-2-1.800-5-.8-5.500-.4-1.500-.6-3.500-.6-5.500 0-10 7-17 16.500-17z"/><path d="M21 108C22.500 87 25.500 78 33 75l14-6.500c2.500 2.800 6 4.300 10 4.300s7.500-1.500 10-4.300L81 74.500c7 3 9 12 10.500 33.500z"/></g></svg>
<div class="t" style="left:289.20px;top:257.59px;font-size:28.00px;color:#e9eaec;letter-spacing:0.276px;">Bienvenue</div>
<div class="t" style="left:289.69px;top:294.53px;font-size:31.50px;color:#ffffff;letter-spacing:0.774px;"><span style="font-weight:700;">Demo</span></div>
<div class="t" style="left:290.49px;top:340.13px;font-size:23.00px;color:#a3a7b1;transform:scaleX(0.9632);transform-origin:0 0;">Status</div>
<div style="position:absolute;left:360.40px;top:340.40px;width:22.00px;height:22.00px;box-sizing:border-box;border:4.200px solid #e26a6a;border-radius:50%"></div>
<div class="t" style="left:390.71px;top:340.13px;font-size:23.00px;color:#ffffff;letter-spacing:0.273px;">Offline</div>
<div class="t" style="left:165.41px;top:411.25px;font-size:18.60px;color:#9da1ab;transform:scaleX(0.8783);transform-origin:0 0;"><span style="font-weight:700;">RACCOURCIS</span></div>
<div style="position:absolute;left:126.00px;top:449.50px;width:398.50px;height:71.50px;background:#31343e"></div>
<svg style="position:absolute;left:169.50px;top:473.50px;color:#d4d6db;" width="25.00" height="25.00" viewBox="0 0 24 24" fill="currentColor"><path fill-rule="evenodd" d="M7 1.500c.7 0 1.200.5 1.200 1.200V4h7.600V2.700c0-.7.500-1.200 1.200-1.200s1.200.5 1.200 1.200V4h1.600c1 0 1.800.8 1.800 1.800v14.400c0 1-.8 1.800-1.800 1.800H4.200c-1 0-1.800-.8-1.800-1.800V5.800C2.400 4.800 3.200 4 4.200 4h1.600V2.700c0-.7.500-1.200 1.200-1.200zM4.200 9.200v3h3.600v-3H4.200zm5.100 0v3h3.600v-3H9.300zm5.100 0v3h5.400v-3h-5.400zM4.200 13.600v3h3.600v-3H4.200zm5.100 0v3h3.600v-3H9.300zm5.100 0v3h5.400v-3h-5.400zM4.200 18v2.200h3.600V18H4.200zm5.100 0v2.200h3.600V18H9.300zm5.100 0v2.200h5.400V18h-5.400z"/></svg>
<div class="t" style="left:211.37px;top:473.13px;font-size:25.00px;color:#ffffff;transform:scaleX(0.9878);transform-origin:0 0;">Planning</div>
<div class="t" style="left:165.26px;top:564.55px;font-size:18.60px;color:#9da1ab;transform:scaleX(0.9926);transform-origin:0 0;"><span style="font-weight:700;">MENU</span></div>
<svg style="position:absolute;left:168.25px;top:625.25px;color:#a6aab4;" width="27.50" height="27.50" viewBox="0 0 24 24" fill="currentColor"><path fill-rule="evenodd" d="M2 2.800C2 2.400 2.400 2 2.800 2h10.400c.4 0 .8.400.8.800V6H9.300C8.600 6 8 6.600 8 7.300V18H2.800c-.4 0-.8-.4-.8-.8V2.800zM9.500 8.300c0-.4.400-.8.800-.8H16v4.700c0 .4.400.8.800.8H22v8.200c0 .4-.4.800-.8.800H10.300c-.4 0-.8-.4-.8-.8V8.300zM17.500 7.700l4.300 4.300h-4.300V7.700zM11.300 9.300v11h9V14.500h-4.500c-.4 0-.8-.4-.8-.8V9.300h-3.700z"/></svg>
<div class="t" style="left:211.37px;top:626.63px;font-size:25.00px;color:#afb3bd;transform:scaleX(0.9886);transform-origin:0 0;">Projets</div>
<svg style="position:absolute;left:169.00px;top:696.30px;color:#a6aab4;" width="26.00" height="26.00" viewBox="0 0 24 24" fill="currentColor"><path d="M2 3.500c0-.5.400-.9.900-.9h18.200c.5 0 .9.400.9.900 0 .3-.1.500-.3.700L13.500 12.800V19h3.300c.6 0 1.100.5 1.100 1.100v.2c0 .6-.5 1.100-1.100 1.100H7.200c-.6 0-1.100-.5-1.100-1.100v-.2c0-.6.500-1.100 1.100-1.100h3.300v-6.200L2.300 4.200A1 1 0 0 1 2 3.500z"/></svg>
<div class="t" style="left:211.44px;top:696.93px;font-size:25.00px;color:#afb3bd;transform:scaleX(0.9581);transform-origin:0 0;">Réceptions</div>
<svg style="position:absolute;left:169.50px;top:767.10px;color:#a6aab4;" width="25.00" height="25.00" viewBox="0 0 24 24" fill="currentColor"><path fill-rule="evenodd" d="M9.200 3.200h11.600c1.200 0 1.900 1 1.500 2.200l-3.700 12c-.4 1.200-1.500 2.100-2.800 2.100H5.500c-.6 0-1 .3-.8.800.2.500.7.700 1.400.7h9.800c.9 0 1.800-.6 2.100-1.500L21.300 8c.5.600.6 1.300.4 2.100l-3 9.700c-.4 1.300-1.500 2-2.800 2H5.700c-1.700 0-3.300-1.200-3.700-2.700-.2-.7-.1-1.200.1-1.800L6 5.500c.5-1.400 1.700-2.300 3.200-2.300zM10 7.200l-.4 1.300h8l.4-1.300h-8zM9 10.200l-.4 1.300h8l.4-1.300H9z"/></svg>
<div class="t" style="left:211.40px;top:767.23px;font-size:25.00px;color:#afb3bd;transform:scaleX(0.9770);transform-origin:0 0;">Books</div>
<svg style="position:absolute;left:447.80px;top:768.90px;color:#b7bbc4;stroke:#b7bbc4;stroke-width:55px;" width="27.00" height="27.00" viewBox="0 0 1792 1792" fill="currentColor"><path d="M1203 544q0 13-10 23l-393 393 393 393q10 10 10 23t-10 23l-50 50q-10 10-23 10t-23-10l-466-466q-10-10-10-23t10-23l466-466q10-10 23-10t23 10l50 50q10 10 10 23z"/></svg>
<svg style="position:absolute;left:169.50px;top:837.40px;color:#a6aab4;" width="25.00" height="25.00" viewBox="0 0 24 24" fill="currentColor"><path fill="none" stroke="currentColor" stroke-width="1.800" stroke-linejoin="round" d="M2 4.500h7.500c1.400 0 2.500.6 2.500 1.600V19c0-.8-1.100-1.400-2.500-1.400H2V4.500zM22 4.500h-7.500c-1.400 0-2.500.6-2.500 1.600V19c0-.8 1.100-1.400 2.500-1.400H22V4.500z"/><path d="M11.200 18h1.600v2.500h-1.600z"/></svg>
<div class="t" style="left:211.35px;top:837.53px;font-size:25.00px;color:#afb3bd;transform:scaleX(0.9989);transform-origin:0 0;">Menus</div>
<svg style="position:absolute;left:447.80px;top:839.20px;color:#b7bbc4;stroke:#b7bbc4;stroke-width:55px;" width="27.00" height="27.00" viewBox="0 0 1792 1792" fill="currentColor"><path d="M1203 544q0 13-10 23l-393 393 393 393q10 10 10 23t-10 23l-50 50q-10 10-23 10t-23-10l-466-466q-10-10-10-23t10-23l466-466q10-10 23-10t23 10l50 50q10 10 10 23z"/></svg>
<svg style="position:absolute;left:169.50px;top:907.70px;color:#a6aab4;" width="25.00" height="25.00" viewBox="0 0 24 24" fill="currentColor"><path fill-rule="evenodd" d="M9.500 1.500h5l1 2.500H20c.6 0 1 .4 1 1v16.500c0 .6-.4 1-1 1H4c-.6 0-1-.4-1-1V5c0-.6.400-1 1-1h4.500l1-2.500zm.9 1.600L9.700 5h4.600l-.7-1.900h-3.200zM4.800 5.800v14.900h14.400V5.800h-2.700l.5 1.500H7l.5-1.500H4.800zM7.500 10.500h9V12h-9v-1.500zm0 3h9V15h-9v-1.500zm0 3h6V18h-6v-1.500z"/></svg>
<div class="t" style="left:211.39px;top:907.83px;font-size:25.00px;color:#afb3bd;transform:scaleX(0.9779);transform-origin:0 0;">Formules</div>
<svg style="position:absolute;left:447.80px;top:909.50px;color:#b7bbc4;stroke:#b7bbc4;stroke-width:55px;" width="27.00" height="27.00" viewBox="0 0 1792 1792" fill="currentColor"><path d="M1203 544q0 13-10 23l-393 393 393 393q10 10 10 23t-10 23l-50 50q-10 10-23 10t-23-10l-466-466q-10-10-10-23t10-23l466-466q10-10 23-10t23 10l50 50q10 10 10 23z"/></svg>
<svg style="position:absolute;left:167.00px;top:975.50px;color:#a6aab4;" width="30.00" height="30.00" viewBox="0 0 24 24" fill="currentColor"><path fill-rule="evenodd" d="M12 .8l5 2.200v5l-5 2.200L7 8V3l5-2.200zM8.500 3.500L12 5l3.500-1.500L12 2.200 8.500 3.500zM6.200 10.300l5 2.200v5.600l-5 2.200-5-2.200v-5.600l5-2.200zM2.700 13l3.500 1.500L9.700 13l-3.500-1.300L2.700 13zm15.100-2.700l5 2.200v5.600l-5 2.200-5-2.200v-5.600l5-2.200zM14.300 13l3.500 1.500 3.500-1.500-3.500-1.300-3.500 1.300z"/></svg>
<div class="t" style="left:211.51px;top:978.13px;font-size:25.00px;color:#afb3bd;transform:scaleX(0.9213);transform-origin:0 0;">Packs</div>
<svg style="position:absolute;left:447.80px;top:979.80px;color:#b7bbc4;stroke:#b7bbc4;stroke-width:55px;" width="27.00" height="27.00" viewBox="0 0 1792 1792" fill="currentColor"><path d="M1203 544q0 13-10 23l-393 393 393 393q10 10 10 23t-10 23l-50 50q-10 10-23 10t-23-10l-466-466q-10-10-10-23t10-23l466-466q10-10 23-10t23 10l50 50q10 10 10 23z"/></svg>
<svg style="position:absolute;left:168.50px;top:1047.30px;color:#a6aab4;" width="27.00" height="27.00" viewBox="0 0 24 24" fill="currentColor"><path d="M4 2v6.500c0 1.400.9 2.500 2.100 2.900L5.600 21c0 .6.500 1 1.100 1h1.600c.6 0 1.100-.4 1.100-1l-.5-9.600c1.200-.4 2.100-1.500 2.100-2.900V2H9.600v5.800H8.400V2H6.600v5.800H5.400V2H4zM19.500 2c-2.800 0-5 2.200-5 5v7.500h2l-.5 6.500c0 .6.500 1 1.100 1h1.800c.6 0 1.100-.4 1.100-1V2h-.5z"/></svg>
<div class="t" style="left:211.35px;top:1048.43px;font-size:25.00px;color:#afb3bd;letter-spacing:0.035px;">Produits</div>
<svg style="position:absolute;left:447.80px;top:1050.10px;color:#b7bbc4;stroke:#b7bbc4;stroke-width:55px;" width="27.00" height="27.00" viewBox="0 0 1792 1792" fill="currentColor"><path d="M1203 544q0 13-10 23l-393 393 393 393q10 10 10 23t-10 23l-50 50q-10 10-23 10t-23-10l-466-466q-10-10-10-23t10-23l466-466q10-10 23-10t23 10l50 50q10 10 10 23z"/></svg>
<svg style="position:absolute;left:169.50px;top:1118.60px;color:#a6aab4;" width="25.00" height="25.00" viewBox="0 0 24 24" fill="currentColor"><path d="M3 14h1.800v6.200h12.400V14H19v8H3v-8zM6.500 16.800h9v1.800h-9v-1.800zM6.800 13.200l8.900 1.200-.2 1.800-8.900-1.200.2-1.800zM8 9.300l8.500 3-.6 1.700-8.500-3 .6-1.700zM10.300 5.600l7.600 4.800-1 1.500-7.600-4.800 1-1.500zM13.800 2.500l6 6.700-1.300 1.200-6-6.700 1.300-1.200z"/></svg>
<div class="t" style="left:211.35px;top:1118.73px;font-size:25.00px;color:#afb3bd;letter-spacing:0.128px;">Production</div>
<svg style="position:absolute;left:447.80px;top:1120.40px;color:#b7bbc4;stroke:#b7bbc4;stroke-width:55px;" width="27.00" height="27.00" viewBox="0 0 1792 1792" fill="currentColor"><path d="M1203 544q0 13-10 23l-393 393 393 393q10 10 10 23t-10 23l-50 50q-10 10-23 10t-23-10l-466-466q-10-10-10-23t10-23l466-466q10-10 23-10t23 10l50 50q10 10 10 23z"/></svg>
<svg style="position:absolute;left:169.50px;top:1188.90px;color:#a6aab4;" width="25.00" height="25.00" viewBox="0 0 24 24" fill="currentColor"><path fill-rule="evenodd" d="M2 3.200h20c.4 0 .8.300.8.800v3c0 .4-.3.800-.8.800H2c-.4 0-.8-.3-.8-.8V4c0-.4.300-.8.800-.8zM2.500 9.300h19V20c0 .4-.3.800-.8.800H3.300c-.4 0-.8-.3-.8-.8V9.300zM9.500 11.500c-.4 0-.8.300-.8.800s.3.800.8.800h5c.4 0 .8-.3.8-.8s-.3-.8-.8-.8h-5z"/></svg>
<div class="t" style="left:211.39px;top:1189.03px;font-size:25.00px;color:#afb3bd;transform:scaleX(0.9800);transform-origin:0 0;">Magasin</div>
<svg style="position:absolute;left:447.80px;top:1190.70px;color:#b7bbc4;stroke:#b7bbc4;stroke-width:55px;" width="27.00" height="27.00" viewBox="0 0 1792 1792" fill="currentColor"><path d="M1203 544q0 13-10 23l-393 393 393 393q10 10 10 23t-10 23l-50 50q-10 10-23 10t-23-10l-466-466q-10-10-10-23t10-23l466-466q10-10 23-10t23 10l50 50q10 10 10 23z"/></svg>
<svg style="position:absolute;left:169.50px;top:1259.20px;color:#a6aab4;" width="25.00" height="25.00" viewBox="0 0 24 24" fill="currentColor"><path d="M1 3.200c0-.5.400-.9.900-.9h3.400c.5 0 .8.300.9.800l.3 1.500h15.600c.6 0 1 .5.900 1.100l-1.300 7.100c-.1.500-.5.800-.9.800H8.500l.3 1.700h11.400c.5 0 .9.400.9.900s-.4.900-.9.900H8c-.5 0-.8-.3-.9-.8L4.500 4.100H1.900c-.5 0-.9-.4-.9-.9z"/><circle cx="9.300" cy="20.300" r="1.900"/><circle cx="18.300" cy="20.300" r="1.900"/></svg>
<div class="t" style="left:212.17px;top:1259.33px;font-size:25.00px;color:#afb3bd;transform:scaleX(0.9674);transform-origin:0 0;">Commandes</div>
<svg style="position:absolute;left:447.80px;top:1261.00px;color:#b7bbc4;stroke:#b7bbc4;stroke-width:55px;" width="27.00" height="27.00" viewBox="0 0 1792 1792" fill="currentColor"><path d="M1203 544q0 13-10 23l-393 393 393 393q10 10 10 23t-10 23l-50 50q-10 10-23 10t-23-10l-466-466q-10-10-10-23t10-23l466-466q10-10 23-10t23 10l50 50q10 10 10 23z"/></svg>
<svg style="position:absolute;left:170.50px;top:1330.50px;color:#a6aab4;" width="23.00" height="23.00" viewBox="0 0 1792 1792" fill="currentColor"><path d="M1472 992v480q0 26-19 45t-45 19h-384v-384h-256v384h-384q-26 0-45-19t-19-45v-480q0-1 .5-3t.5-3l575-474 575 474q1 2 1 6zm223-69l-62 74q-8 9-21 11h-3q-13 0-21-7l-692-577-692 577q-12 8-24 7-13-2-21-11l-62-74q-8-10-7-23.5t11-21.5l719-599q32-26 76-26t76 26l244 204v-195q0-14 9-23t23-9h192q14 0 23 9t9 23v408l219 182q10 8 11 21.5t-7 23.5z"/></svg>
<div class="t" style="left:212.37px;top:1329.63px;font-size:25.00px;color:#afb3bd;transform:scaleX(0.9084);transform-origin:0 0;">Salles</div>
<svg style="position:absolute;left:447.80px;top:1331.30px;color:#b7bbc4;stroke:#b7bbc4;stroke-width:55px;" width="27.00" height="27.00" viewBox="0 0 1792 1792" fill="currentColor"><path d="M1203 544q0 13-10 23l-393 393 393 393q10 10 10 23t-10 23l-50 50q-10 10-23 10t-23-10l-466-466q-10-10-10-23t10-23l466-466q10-10 23-10t23 10l50 50q10 10 10 23z"/></svg>
<svg style="position:absolute;left:169.00px;top:1399.30px;color:#a6aab4;" width="26.00" height="26.00" viewBox="0 -1 24 24" fill="currentColor"><circle cx="12" cy="6.500" r="4.700"/><path d="M5.500 22c-1.100 0-1.800-.8-1.800-1.900 0-4.300 1.400-7.300 3.900-7.300 1.100 1.100 2.600 1.900 4.400 1.900s3.300-.8 4.400-1.900c2.500 0 3.900 3 3.900 7.300 0 1.100-.7 1.900-1.800 1.900z"/><circle cx="4.700" cy="4.400" r="3.200"/><path d="M0 13c0-2.700.9-4.500 2.400-4.500.7.700 1.500 1.200 2.500 1.200.6 0 1.200-.2 1.700-.5-.1 1.300.3 2.500 1.100 3.500-1.500.1-2.700.9-3.400 2.100H2.100C.8 14.800 0 14.200 0 13z"/><circle cx="19.300" cy="4.400" r="3.200"/><path d="M24 13c0-2.700-.9-4.500-2.400-4.500-.7.700-1.500 1.200-2.500 1.200-.6 0-1.200-.2-1.700-.5.1 1.300-.3 2.500-1.100 3.500 1.500.1 2.700.9 3.400 2.100h2.200c1.300 0 2.100-.6 2.100-1.800z"/></svg>
<div class="t" style="left:212.17px;top:1399.93px;font-size:25.00px;color:#afb3bd;transform:scaleX(0.9698);transform-origin:0 0;">Clients</div>
<svg style="position:absolute;left:447.80px;top:1401.60px;color:#b7bbc4;stroke:#b7bbc4;stroke-width:55px;" width="27.00" height="27.00" viewBox="0 0 1792 1792" fill="currentColor"><path d="M1203 544q0 13-10 23l-393 393 393 393q10 10 10 23t-10 23l-50 50q-10 10-23 10t-23-10l-466-466q-10-10-10-23t10-23l466-466q10-10 23-10t23 10l50 50q10 10 10 23z"/></svg>
<svg style="position:absolute;left:169.25px;top:1470.85px;color:#a6aab4;" width="25.50" height="25.50" viewBox="0 0 24 24" fill="currentColor"><path fill-rule="evenodd" d="M9.500 4.500h13a.8.8 0 0 1 .8.800V16.500a.8.8 0 0 1-.8.800H21a2.800 2.800 0 0 0-5.500 0H9.300a2.800 2.800 0 0 0-5.500 0H2a.8.8 0 0 1-.8-.8V12.300c0-.5.200-1 .5-1.300l2.900-3.100c.3-.3.700-.5 1.200-.5h3v-2.100a.8.8 0 0 1 .7-.8zM3 12.300h5.200V9.200H6.100L3 12.400zM6.500 15.800a2 2 0 1 0 0 4 2 2 0 0 0 0-4zM18.300 15.800a2 2 0 1 0 0 4 2 2 0 0 0 0-4z"/></svg>
<div class="t" style="left:213.30px;top:1470.23px;font-size:25.00px;color:#afb3bd;transform:scaleX(0.9405);transform-origin:0 0;">Véhicules</div>
<svg style="position:absolute;left:447.80px;top:1471.90px;color:#b7bbc4;stroke:#b7bbc4;stroke-width:55px;" width="27.00" height="27.00" viewBox="0 0 1792 1792" fill="currentColor"><path d="M1203 544q0 13-10 23l-393 393 393 393q10 10 10 23t-10 23l-50 50q-10 10-23 10t-23-10l-466-466q-10-10-10-23t10-23l466-466q10-10 23-10t23 10l50 50q10 10 10 23z"/></svg>
<svg style="position:absolute;left:169.00px;top:1539.90px;color:#a6aab4;" width="26.00" height="26.00" viewBox="0 -1 24 24" fill="currentColor"><circle cx="12" cy="6.500" r="4.700"/><path d="M5.500 22c-1.100 0-1.800-.8-1.800-1.900 0-4.300 1.400-7.300 3.900-7.300 1.100 1.100 2.600 1.900 4.400 1.900s3.300-.8 4.400-1.900c2.500 0 3.900 3 3.900 7.300 0 1.100-.7 1.900-1.800 1.900z"/><circle cx="4.700" cy="4.400" r="3.200"/><path d="M0 13c0-2.700.9-4.500 2.400-4.500.7.700 1.500 1.200 2.500 1.200.6 0 1.200-.2 1.700-.5-.1 1.300.3 2.500 1.100 3.500-1.500.1-2.700.9-3.400 2.100H2.100C.8 14.800 0 14.200 0 13z"/><circle cx="19.300" cy="4.400" r="3.200"/><path d="M24 13c0-2.700-.9-4.500-2.400-4.500-.7.700-1.500 1.200-2.500 1.200-.6 0-1.200-.2-1.700-.5.1 1.300-.3 2.500-1.100 3.500 1.500.1 2.700.9 3.400 2.100h2.200c1.300 0 2.100-.6 2.100-1.800z"/></svg>
<div class="t" style="left:211.38px;top:1540.53px;font-size:25.00px;color:#afb3bd;transform:scaleX(0.9830);transform-origin:0 0;">Personnel</div>
<svg style="position:absolute;left:447.80px;top:1542.20px;color:#b7bbc4;stroke:#b7bbc4;stroke-width:55px;" width="27.00" height="27.00" viewBox="0 0 1792 1792" fill="currentColor"><path d="M1203 544q0 13-10 23l-393 393 393 393q10 10 10 23t-10 23l-50 50q-10 10-23 10t-23-10l-466-466q-10-10-10-23t10-23l466-466q10-10 23-10t23 10l50 50q10 10 10 23z"/></svg>
<svg style="position:absolute;left:169.00px;top:1610.20px;color:#a6aab4;" width="26.00" height="26.00" viewBox="0 -1 24 24" fill="currentColor"><circle cx="12" cy="6.500" r="4.700"/><path d="M5.500 22c-1.100 0-1.800-.8-1.800-1.900 0-4.300 1.400-7.300 3.900-7.300 1.100 1.100 2.600 1.900 4.400 1.900s3.300-.8 4.400-1.900c2.500 0 3.900 3 3.900 7.300 0 1.100-.7 1.900-1.800 1.900z"/><circle cx="4.700" cy="4.400" r="3.200"/><path d="M0 13c0-2.700.9-4.500 2.400-4.500.7.700 1.500 1.200 2.500 1.200.6 0 1.200-.2 1.700-.5-.1 1.300.3 2.500 1.100 3.500-1.500.1-2.700.9-3.400 2.100H2.100C.8 14.800 0 14.200 0 13z"/><circle cx="19.300" cy="4.400" r="3.200"/><path d="M24 13c0-2.700-.9-4.500-2.400-4.500-.7.700-1.500 1.200-2.500 1.200-.6 0-1.200-.2-1.700-.5.1 1.300-.3 2.500-1.100 3.500 1.500.1 2.700.9 3.400 2.100h2.200c1.300 0 2.100-.6 2.100-1.800z"/></svg>
<div class="t" style="left:211.40px;top:1610.83px;font-size:25.00px;color:#afb3bd;transform:scaleX(0.9750);transform-origin:0 0;">Fournisseurs</div>
<svg style="position:absolute;left:447.80px;top:1612.50px;color:#b7bbc4;stroke:#b7bbc4;stroke-width:55px;" width="27.00" height="27.00" viewBox="0 0 1792 1792" fill="currentColor"><path d="M1203 544q0 13-10 23l-393 393 393 393q10 10 10 23t-10 23l-50 50q-10 10-23 10t-23-10l-466-466q-10-10-10-23t10-23l466-466q10-10 23-10t23 10l50 50q10 10 10 23z"/></svg>
<svg style="position:absolute;left:169.50px;top:1681.00px;color:#a6aab4;" width="25.00" height="25.00" viewBox="0 0 24 24" fill="currentColor"><path d="M9 2.800h6a2 2 0 0 1 2 2V7h3.200A1.800 1.800 0 0 1 22 8.800V13H2V8.800A1.800 1.800 0 0 1 3.800 7H7V4.800a2 2 0 0 1 2-2zm.2 2V7h5.600V4.800H9.200zM2 14.600h8v1.700h4v-1.700h8v4.600A1.800 1.800 0 0 1 20.200 21H3.800A1.800 1.800 0 0 1 2 19.200v-4.600z"/></svg>
<div class="t" style="left:212.20px;top:1681.13px;font-size:25.00px;color:#afb3bd;transform:scaleX(0.9455);transform-origin:0 0;">Chargés Affaires</div>
<svg style="position:absolute;left:447.80px;top:1682.80px;color:#b7bbc4;stroke:#b7bbc4;stroke-width:55px;" width="27.00" height="27.00" viewBox="0 0 1792 1792" fill="currentColor"><path d="M1203 544q0 13-10 23l-393 393 393 393q10 10 10 23t-10 23l-50 50q-10 10-23 10t-23-10l-466-466q-10-10-10-23t10-23l466-466q10-10 23-10t23 10l50 50q10 10 10 23z"/></svg>
<svg style="position:absolute;left:169.50px;top:1751.30px;color:#a6aab4;" width="25.00" height="25.00" viewBox="0 0 24 24" fill="currentColor"><path fill-rule="evenodd" d="M4.300 1.500h10.500L20.500 7.200v14.500c0 .4-.4.800-.8.800H4.300c-.4 0-.8-.4-.8-.8V2.300c0-.4.400-.8.800-.8zM5.300 3.300v17.400h13.400V8.700h-4.600c-.4 0-.8-.4-.8-.8V3.300h-8zm9.800.6v3h3l-3-3zM7.500 11h9v1.500h-9V11zm0 3h9v1.500h-9V14zm0 3h9v1.500h-9V17z"/></svg>
<div class="t" style="left:211.46px;top:1751.43px;font-size:25.00px;color:#afb3bd;transform:scaleX(0.9446);transform-origin:0 0;">Factures &amp; Devis</div>
<svg style="position:absolute;left:447.80px;top:1753.10px;color:#b7bbc4;stroke:#b7bbc4;stroke-width:55px;" width="27.00" height="27.00" viewBox="0 0 1792 1792" fill="currentColor"><path d="M1203 544q0 13-10 23l-393 393 393 393q10 10 10 23t-10 23l-50 50q-10 10-23 10t-23-10l-466-466q-10-10-10-23t10-23l466-466q10-10 23-10t23 10l50 50q10 10 10 23z"/></svg>
<svg style="position:absolute;left:169.50px;top:1821.60px;color:#a6aab4;" width="25.00" height="25.00" viewBox="0 0 24 24" fill="currentColor"><path fill-rule="evenodd" d="M1 5h22v14H1V5zm1.800 4.600v4.800c1.400 0 2.800 1.300 2.800 2.800h12.800c0-1.500 1.400-2.800 2.800-2.800V9.600c-1.400 0-2.800-1.300-2.800-2.800H5.600c0 1.500-1.400 2.800-2.800 2.800zM12 7.500c2 0 3.300 2 3.300 4.500S14 16.500 12 16.500 8.700 14.500 8.700 12 10 7.500 12 7.500zM11.500 9.300l-1.200.7v1l1-.4v3.200h-1v1h3.400v-1h-1V9.300h-1.200z"/></svg>
<div class="t" style="left:211.41px;top:1821.73px;font-size:25.00px;color:#afb3bd;transform:scaleX(0.9726);transform-origin:0 0;">Paiements</div>
<svg style="position:absolute;left:447.80px;top:1823.40px;color:#b7bbc4;stroke:#b7bbc4;stroke-width:55px;" width="27.00" height="27.00" viewBox="0 0 1792 1792" fill="currentColor"><path d="M1203 544q0 13-10 23l-393 393 393 393q10 10 10 23t-10 23l-50 50q-10 10-23 10t-23-10l-466-466q-10-10-10-23t10-23l466-466q10-10 23-10t23 10l50 50q10 10 10 23z"/></svg>
<div style="position:absolute;left:126.00px;top:1840.00px;width:398.50px;height:74.00px;background:#2b2e37"></div>
<div class="t" style="left:235.92px;top:1871.14px;font-size:18.50px;color:#c9cbd0;transform:scaleX(0.9777);transform-origin:0 0;">Powered by</div>
<div style="position:absolute;left:337.70px;top:1860.00px;width:149.50px;height:41.00px;box-sizing:border-box;border:2.00px solid #6c6f78"></div>
<svg style="position:absolute;left:345.02px;top:1867.41px" width="27.67" height="25.88" viewBox="0 0 31 29" fill="none" stroke="#6c6f78" stroke-width="2.300" stroke-linecap="round"><circle cx="15.500" cy="4.300" r="3.100"/><path d="M14.200 7.200L4.500 25.700M16.800 7.200L26.700 25.700M1 20.300C8 30.500 23 30.500 30 20.300M10.500 12.300H17M15.500 7.500L21 14.500M2.800 19.200l2.600 3.800M28.200 19.200l-2.600 3.800"/></svg>
<div class="t" style="left:374.04px;top:1866.05px;font-size:29.99px;color:#81848c;letter-spacing:0.206px;font-family:'DejaVu Sans Light','DejaVu Sans',sans-serif;font-weight:200;-webkit-text-stroke:0.49px #81848c;">Sextan</div>
<div class="t" style="left:477.73px;top:1870.84px;font-size:6.69px;color:#81848c;">®</div>
<div style="position:absolute;left:0;top:0;width:2625px;height:2026px;clip-path:polygon(128.0px 120.0px,524.5px 120.0px,524.5px 618.8px,128.0px 408.7px);background:rgba(255,255,255,.042);pointer-events:none"></div>
</div>
</div>
</body></html>
